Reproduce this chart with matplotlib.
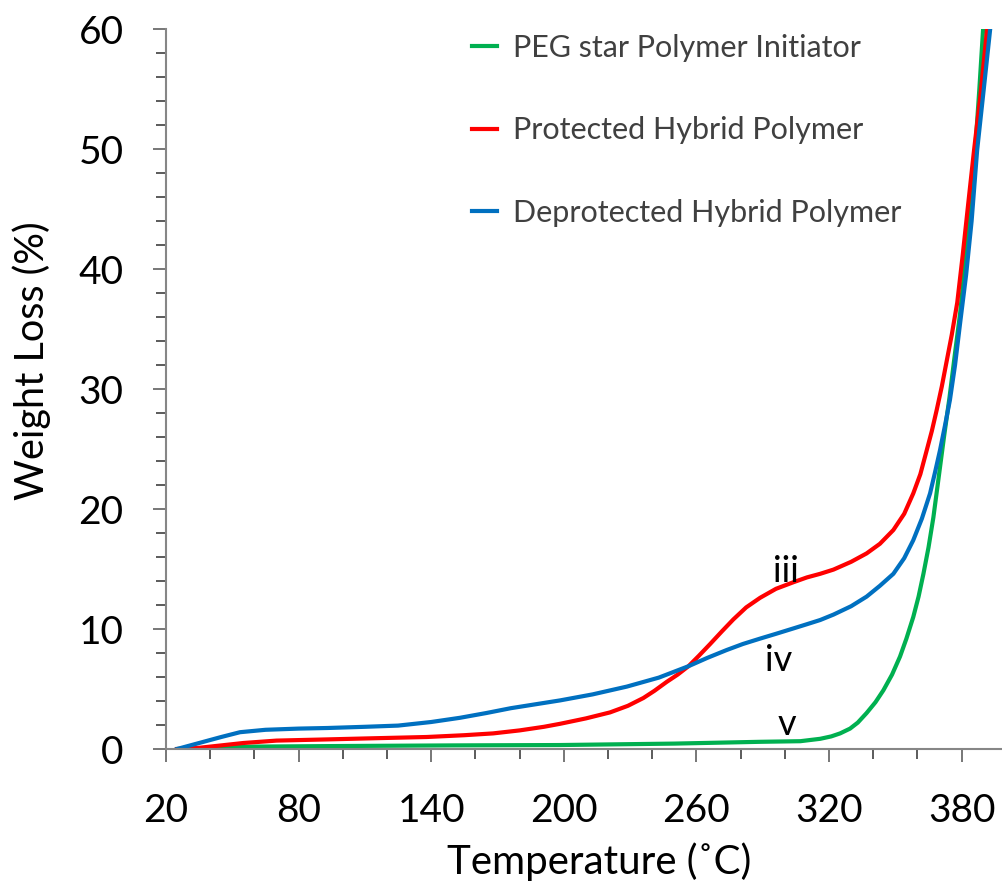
import matplotlib
matplotlib.use("Agg")
from matplotlib import pyplot as plt
from matplotlib.ticker import MultipleLocator

plt.rcParams['font.family'] = ['Lato', 'DejaVu Sans']

# PEG star polymer initiator (green)
peg_temp = [25, 40, 60, 100, 150, 198, 250, 289, 307, 316, 321, 325, 329.5,
            333, 337, 341, 344.6, 348.5, 352.1, 355, 358.1, 360.5, 362.7, 365,
            367.2, 369.5, 372, 374.5, 377, 379.3, 382, 384, 386.1, 388, 389.7]
peg_loss = [0, 0.1, 0.2, 0.25, 0.3, 0.33, 0.45, 0.6, 0.65, 0.85, 1.05, 1.3,
            1.7, 2.2, 3.0, 3.9, 4.9, 6.2, 7.7, 9.2, 11.0, 12.7, 14.6, 16.8,
            19.3, 22.5, 26, 29.3, 33, 36.3, 41.3, 45.5, 49.9, 55, 60]

# Protected hybrid polymer (red)
prot_temp = [25, 35, 45, 55, 70, 93, 115, 138, 155, 168, 180, 191, 198.3, 210,
             220.9, 229, 236, 241, 246.6, 251.5, 256.4, 261, 266.2, 271.5,
             276.7, 282.5, 288.8, 296, 303.9, 310, 316, 322, 330, 337, 343,
             349.1, 354, 358.1, 361.3, 364.2, 366.5, 368.7, 371, 373.3, 375.5,
             378, 380.5, 383, 385.6, 388.5, 391.5]
prot_loss = [0, 0.1, 0.3, 0.5, 0.7, 0.8, 0.9, 1.0, 1.15, 1.3, 1.55, 1.85, 2.1,
             2.55, 3.05, 3.6, 4.25, 4.85, 5.6, 6.2, 6.9, 7.75, 8.75, 9.8, 10.8,
             11.8, 12.6, 13.35, 13.9, 14.3, 14.6, 14.95, 15.6, 16.3, 17.1,
             18.25, 19.6, 21.3, 22.9, 24.9, 26.5, 28.25, 30.2, 32.4, 34.5, 37.2,
             41.2, 45.5, 49.9, 54.5, 60]

# Deprotected hybrid polymer (blue)
deprot_temp = [25, 35, 45, 53.5, 65, 80, 93, 110, 125, 140, 153, 165, 176,
               188, 198.3, 213, 228.5, 243, 256.4, 265, 273.7, 281, 288.8, 296,
               303.9, 310, 316, 322, 330, 337, 343, 349.1, 354, 358.1, 362,
               365.7, 368, 370.2, 372.5, 374.7, 377, 379.3, 382, 384.5, 387,
               390, 392.9]
deprot_loss = [0, 0.5, 1.0, 1.4, 1.6, 1.7, 1.75, 1.85, 1.95, 2.25, 2.6, 3.0,
               3.4, 3.75, 4.05, 4.55, 5.2, 5.95, 6.9, 7.6, 8.25, 8.75, 9.2,
               9.6, 10.05, 10.4, 10.75, 11.2, 11.9, 12.7, 13.6, 14.6, 15.9,
               17.4, 19.2, 21.3, 23.1, 24.9, 27, 29.1, 32, 35.5, 39.5, 44, 49.9,
               55, 60]

labels = ['PEG star Polymer Initiator', 'Protected Hybrid Polymer',
          'Deprotected Hybrid Polymer']
colors = ['#00B050', '#FF0000', '#0070C0']

# curve markers (text, temperature, weight loss at baseline)
tags = [('iii', 300.3, 13.9), ('iv', 297.4, 6.5), ('v', 300.7, 1.17)]

fig = plt.figure(figsize=(10.03, 8.83), dpi=100)
ax = fig.add_axes([166 / 1003, 134 / 883, 837 / 1003, 720 / 883])

series = [(peg_temp, peg_loss), (prot_temp, prot_loss), (deprot_temp, deprot_loss)]
for (t, w), lab, col in zip(series, labels, colors):
    ax.plot(t, w, color=col, lw=3, label=lab, solid_joinstyle='round')

for txt, t, w in tags:
    ax.text(t, w, txt, fontsize=26, ha='center', va='baseline', color='black')

ax.set_xlim(20, 398.7)
ax.set_ylim(0, 60)
ax.xaxis.set_major_locator(MultipleLocator(60, offset=20))
ax.xaxis.set_minor_locator(MultipleLocator(20))
ax.yaxis.set_major_locator(MultipleLocator(10))
ax.yaxis.set_minor_locator(MultipleLocator(2))

for s in ['top', 'right']:
    ax.spines[s].set_visible(False)
for s in ['left', 'bottom']:
    ax.spines[s].set_color('#868686')
    ax.spines[s].set_linewidth(1.5)

ax.tick_params(which='major', direction='out', length=9.5, width=1.2,
               color='#606060', labelsize=28)
ax.tick_params(which='minor', direction='out', length=7, width=1.2,
               color='#404040')
ax.tick_params(axis='y', which='major', pad=21)
ax.tick_params(axis='x', which='major', pad=22)

ax.set_xlabel('Temperature (˚C)', fontsize=29)
ax.set_ylabel('Weight Loss (%)', fontsize=28.5)
ax.xaxis.set_label_coords(0.517, -0.13)
ax.yaxis.set_label_coords(-0.137, 0.54)

leg = ax.legend(loc='upper left', bbox_to_anchor=(472 / 1003, 1 - 34 / 883),
                bbox_transform=fig.transFigure, frameon=False, fontsize=22,
                handlelength=0.82, handletextpad=0.52, labelspacing=1.78,
                borderpad=0, borderaxespad=0)
for t in leg.get_texts():
    t.set_color('#404040')

fig.savefig('out.png', dpi=100)
